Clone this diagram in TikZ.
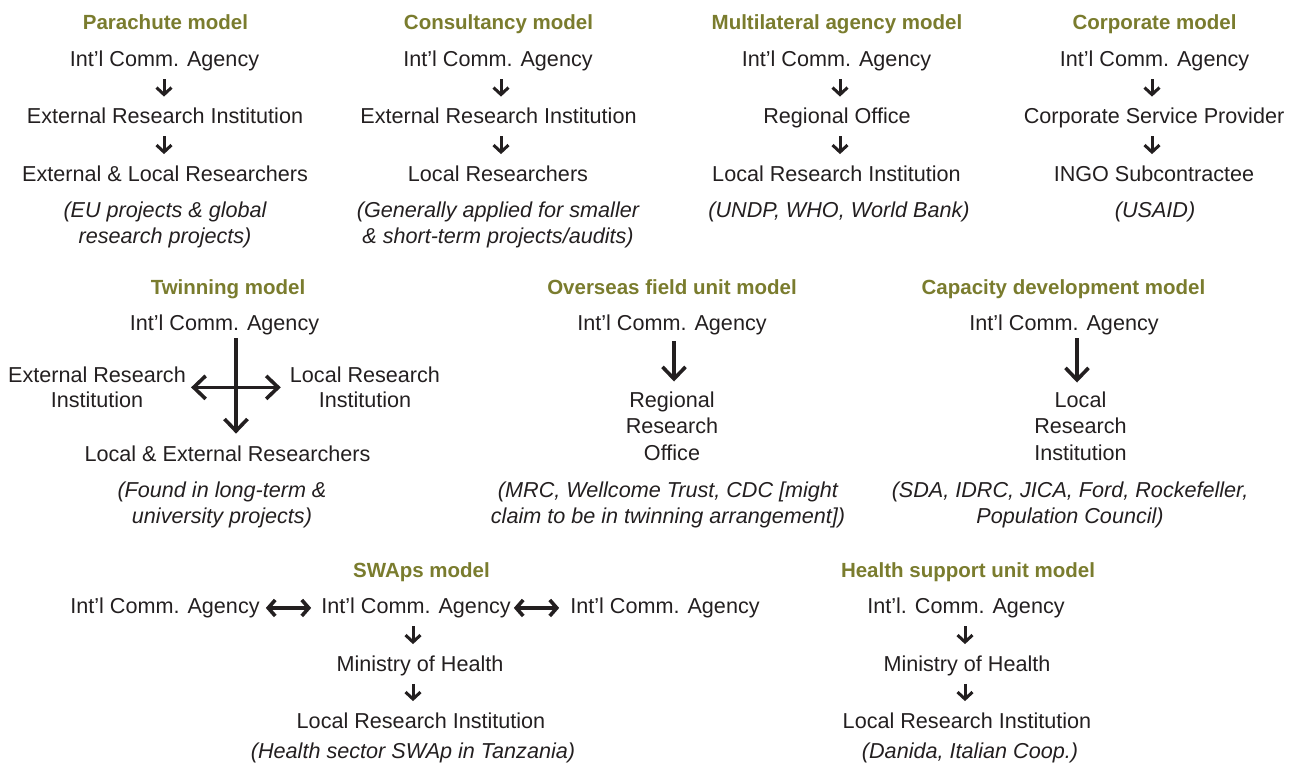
\documentclass[tikz,border=0pt]{standalone}
\usepackage{fontspec}
\setmainfont{Liberation Sans}
\usepackage{tikz}
\usetikzlibrary{arrows.meta}
\definecolor{modelgreen}{RGB}{122,124,46}
\definecolor{ink}{RGB}{35,31,32}
\newcommand\bodyfont{\fontsize{21.6}{25.5}\selectfont}
\newcommand\tallfont{\fontsize{21.6}{26.5}\selectfont}
\newcommand\titlefont{\fontsize{20.5}{24}\selectfont\bfseries}

\begin{document}
\begin{tikzpicture}[x=1pt,y=-1pt,
	lbl/.style={inner sep=0pt,anchor=base,text height=15.7pt,text depth=4.6pt,font=\bodyfont,text=ink},
	mlbl/.style={inner sep=0pt,anchor=north,align=center,font=\bodyfont,text=ink},
	ttl/.style={inner sep=0pt,anchor=base,font=\titlefont,text=modelgreen},
	note/.style={mlbl,font=\bodyfont\itshape},
	sarr/.style={color=ink,line width=3pt,shorten >=11pt,shorten <=8pt,-{Straight Barb[length=7pt,width=15pt]}},
	barr/.style={color=ink,line width=3.6pt,-{Straight Barb[length=12pt,width=23pt]}},
	bbarr/.style={color=ink,line width=3.6pt,{Straight Barb[length=12pt,width=23pt]}-{Straight Barb[length=12pt,width=23pt]}},
	darr/.style={color=ink,line width=3.6pt,{Straight Barb[length=7pt,width=16pt]}-{Straight Barb[length=7pt,width=16pt]}}]
\useasboundingbox (0,0) rectangle (1298,764);

% parachute
\node[ttl] (paT) at (165.5,29) {Parachute model};
\node[lbl] (pa1) at (164.5,66.5) {Int’l Comm. Agency};
\node[lbl] (pa2) at (165,123.5) {External Research Institution};
\node[lbl] (pa3) at (165,181) {External \& Local Researchers};
\node[note] (paN) at (165,202) {(EU projects \& global\\research projects)};
\path (pa1.south -| 164,0) edge[sarr] (pa2.north -| 164,0)
	(pa2.south -| 164,0) edge[sarr] (pa3.north -| 164,0);

% consultancy
\node[ttl] (coT) at (498.5,29) {Consultancy model};
\node[lbl] (co1) at (498,66.5) {Int’l Comm. Agency};
\node[lbl] (co2) at (498.5,123.5) {External Research Institution};
\node[lbl] (co3) at (498,181) {Local Researchers};
\node[note] (coN) at (498,202) {(Generally applied for smaller\\\& short-term projects/audits)};
\path (co1.south -| 501,0) edge[sarr] (co2.north -| 501,0)
	(co2.south -| 501,0) edge[sarr] (co3.north -| 501,0);

% multilateral agency
\node[ttl] (mlT) at (837,29) {Multilateral agency model};
\node[lbl] (ml1) at (836.5,66.5) {Int’l Comm. Agency};
\node[lbl] (ml2) at (837,123.5) {Regional Office};
\node[lbl] (ml3) at (836.5,181) {Local Research Institution};
\node[note] (mlN) at (839,202) {(UNDP, WHO, World Bank)};
\path (ml1.south -| 840,0) edge[sarr] (ml2.north -| 840,0)
	(ml2.south -| 840,0) edge[sarr] (ml3.north -| 840,0);

% corporate
\node[ttl] (cpT) at (1154.5,29) {Corporate model};
\node[lbl] (cp1) at (1154.5,66.5) {Int’l Comm. Agency};
\node[lbl] (cp2) at (1154,123.5) {Corporate Service Provider};
\node[lbl] (cp3) at (1154,181) {INGO Subcontractee};
\node[note] (cpN) at (1155,202) {(USAID)};
\path (cp1.south -| 1152,0) edge[sarr] (cp2.north -| 1152,0)
	(cp2.south -| 1152,0) edge[sarr] (cp3.north -| 1152,0);

% twinning
\node[ttl] (twT) at (228,294) {Twinning model};
\node[lbl] (tw1) at (224.5,330.5) {Int’l Comm. Agency};
\node[mlbl] (tw2) at (97,366.5) {External Research\\Institution};
\node[mlbl] (tw3) at (365,366.5) {Local Research\\Institution};
\node[lbl] (tw4) at (227.5,461.5) {Local \& External Researchers};
\node[note] (twN) at (222,482) {(Found in long-term \&\\university projects)};
\path (tw1.south -| 236,0) edge[barr,shorten <=3pt,shorten >=12pt] (tw4.north -| 236,0);
\path (tw2) edge[bbarr,shorten <=5pt,shorten >=9pt] (tw3);

% overseas field unit
\node[ttl] (ovT) at (672,294) {Overseas field unit model};
\node[lbl] (ov1) at (672,330.5) {Int’l Comm. Agency};
\node[mlbl,font=\tallfont] (ov2) at (672,391.5) {Regional\\Research\\Office};
\node[note] (ovN) at (668,482) {(MRC, Wellcome Trust, CDC [might\\claim to be in twinning arrangement])};
\path (ov1.south -| 674,0) edge[barr,shorten <=6pt,shorten >=10pt] (ov2.north -| 674,0);

% capacity development
\node[ttl] (cdT) at (1063.5,294) {Capacity development model};
\node[lbl] (cd1) at (1064,330.5) {Int’l Comm. Agency};
\node[mlbl,font=\tallfont] (cd2) at (1080.5,391.5) {Local\\Research\\Institution};
\node[note] (cdN) at (1070,482) {(SDA, IDRC, JICA, Ford, Rockefeller,\\Population Council)};
\path (cd1.south -| 1077,0) edge[barr,shorten <=3pt,shorten >=9pt] (cd2.north -| 1077,0);

% SWAps
\node[ttl] (swT) at (421.5,577.5) {SWAps model};
\node[lbl] (sw1) at (165,613.5) {Int’l Comm. Agency};
\node[lbl] (sw2) at (416,613.5) {Int’l Comm. Agency};
\node[lbl] (sw3) at (665,613.5) {Int’l Comm. Agency};
\node[lbl] (sw4) at (420,671) {Ministry of Health};
\node[lbl] (sw5) at (421,728) {Local Research Institution};
\node[note] (swN) at (413,743) {(Health sector SWAp in Tanzania)};
\path (sw1) edge[darr,shorten <=6pt,shorten >=10pt] (sw2)
	(sw2) edge[darr,shorten <=3pt,shorten >=11pt] (sw3);
\path (sw2.south -| 413,0) edge[sarr] (sw4.north -| 413,0)
	(sw4.south -| 413,0) edge[sarr] (sw5.north -| 413,0);

% health support unit
\node[ttl] (hsT) at (968,577.5) {Health support unit model};
\node[lbl] (hs1) at (966,613.5) {Int’l. Comm. Agency};
\node[lbl] (hs2) at (967,671) {Ministry of Health};
\node[lbl] (hs3) at (967,728) {Local Research Institution};
\node[note] (hsN) at (970,743) {(Danida, Italian Coop.)};
\path (hs1.south -| 965,0) edge[sarr] (hs2.north -| 965,0)
	(hs2.south -| 965,0) edge[sarr] (hs3.north -| 965,0);
\end{tikzpicture}
\end{document}
